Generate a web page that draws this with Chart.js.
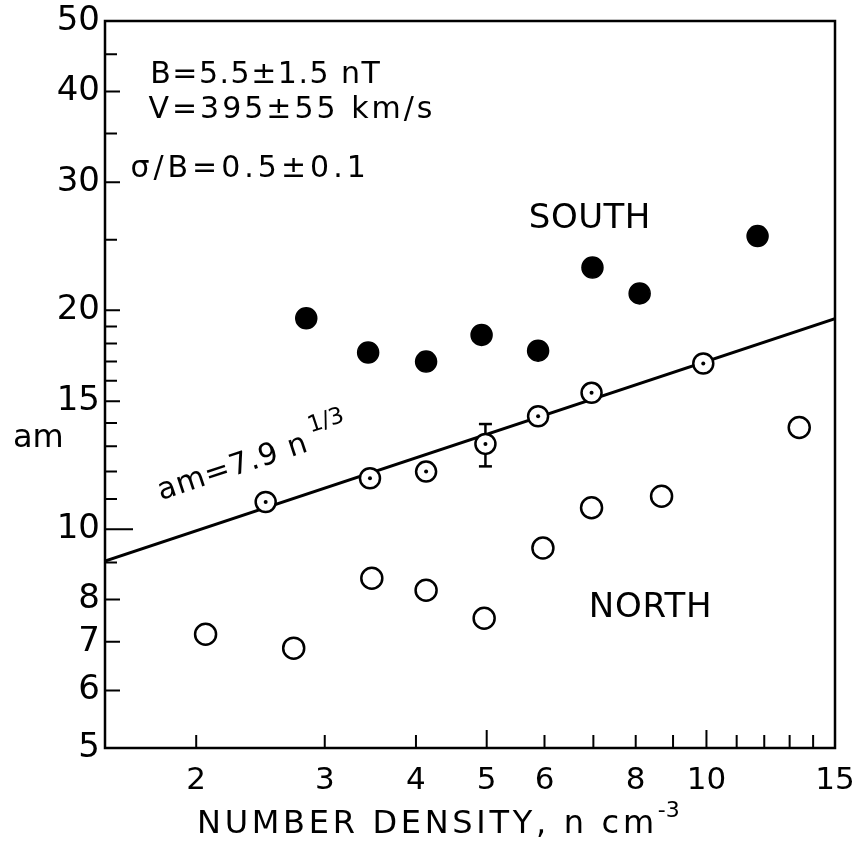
<!DOCTYPE html>
<html lang="en">
<head>
<meta charset="UTF-8">
<title>am vs number density</title>
<script src="https://cdn.jsdelivr.net/npm/chart.js"></script>
<style>
  html, body { margin: 0; padding: 0; background: #fff; }
  #wrap { width: 857px; height: 854px; }
</style>
</head>
<body>
<div id="wrap"><canvas id="amChart"></canvas></div>
<script>
// values
const southN   = [2.83, 3.44, 4.13, 4.92, 5.88, 6.98, 8.1, 11.75];
const southAm  = [19.5, 17.5, 17.0, 18.5, 17.6, 22.9, 21.1, 25.3];
const middleN  = [2.49, 3.46, 4.13, 4.98, 5.88, 6.96, 9.9];
const middleAm = [10.9, 11.75, 12.0, 13.1, 14.3, 15.4, 16.9];
const northN   = [2.06, 2.72, 3.48, 4.13, 4.96, 5.97, 6.96, 8.68, 13.4];
const northAm  = [7.17, 6.86, 8.56, 8.24, 7.54, 9.42, 10.7, 11.1, 13.8];
const errN  = [4.98, 4.98];
const errAm = [12.2, 13.95];
// am = 7.9 n^(1/3), end points at the edges of the frame
const fitN  = [1.5, 15];
const fitAm = [9.04, 19.48];

const xTicks  = [2, 3, 4, 5, 6, 7, 8, 9, 10, 11, 12, 13, 14, 15];
const xLabels = [2, 3, 4, 5, 6, 8, 10, 15];
const yTicks  = [5, 6, 7, 8, 9, 10, 11, 12, 13, 14, 15, 16, 17, 18, 19, 20, 25, 30, 35, 40, 45, 50];
const yLabels = [5, 6, 7, 8, 10, 15, 20, 30, 40, 50];

const FONT = '"DejaVu Sans", sans-serif';
Chart.defaults.font.family = FONT;

function pairs(xs, ys) {
    return xs.map((x, i) => ({ x: x, y: ys[i] }));
}

function noPadding(scale) {
    scale.paddingLeft = 0;
    scale.paddingRight = 0;
    scale.paddingTop = 0;
    scale.paddingBottom = 0;
}

// frame, inward tick marks and the lettering
const framePlugin = {
    id: 'frame',
    beforeDatasetsDraw(chart) {
        const ctx = chart.ctx;
        const a = chart.chartArea;
        const xs = chart.scales.x, ys = chart.scales.y;
        ctx.save();
        ctx.strokeStyle = '#000';
        ctx.lineWidth = 2.5;
        ctx.strokeRect(a.left, a.top, a.right - a.left, a.bottom - a.top);
        ctx.lineWidth = 2;
        ctx.beginPath();
        xTicks.forEach(v => {
            const px = xs.getPixelForValue(v);
            const len = (v === 5 || v === 10) ? 18 : 13;
            ctx.moveTo(px, a.bottom);
            ctx.lineTo(px, a.bottom - len);
        });
        yTicks.forEach(v => {
            const py = ys.getPixelForValue(v);
            let len = yLabels.includes(v) ? 15 : 12;
            if (v === 10) len = 28;
            ctx.moveTo(a.left, py);
            ctx.lineTo(a.left + len, py);
        });
        ctx.stroke();
        ctx.restore();
    },
    afterDraw(chart) {
        const ctx = chart.ctx;
        const xs = chart.scales.x, ys = chart.scales.y;
        const at = (x, y) => [xs.getPixelForValue(x), ys.getPixelForValue(y)];
        ctx.save();
        ctx.fillStyle = '#000';
        ctx.textBaseline = 'alphabetic';
        ctx.textAlign = 'left';

        ctx.font = '30px ' + FONT;
        ctx.letterSpacing = '1.5px';
        let p = at(1.73, 41.1);
        ctx.fillText('B=5.5\u00b11.5 nT', p[0], p[1]);
        ctx.letterSpacing = '3px';
        p = at(1.72, 36.75);
        ctx.fillText('V=395\u00b155 km/s', p[0], p[1]);
        ctx.letterSpacing = '4px';
        p = at(1.625, 30.5);
        ctx.fillText('\u03c3/B=0.5\u00b10.1', p[0], p[1]);

        ctx.font = '34px ' + FONT;
        ctx.letterSpacing = '0.5px';
        p = at(5.71, 25.94);
        ctx.fillText('SOUTH', p[0], p[1]);
        ctx.letterSpacing = '0.75px';
        p = at(6.9, 7.57);
        ctx.fillText('NORTH', p[0], p[1]);

        // label along the fitted line
        const l0 = at(fitN[0], fitAm[0]), l1 = at(fitN[1], fitAm[1]);
        const ang = Math.atan2(l1[1] - l0[1], l1[0] - l0[0]);
        p = at(1.79, 10.96);
        ctx.translate(p[0], p[1]);
        ctx.rotate(ang);
        ctx.font = '30px ' + FONT;
        ctx.letterSpacing = '1px';
        const main = 'am=7.9 n';
        ctx.fillText(main, 0, 0);
        const w = ctx.measureText(main).width;
        ctx.font = '23px ' + FONT;
        ctx.letterSpacing = '0px';
        ctx.fillText('1/3', w + 6, -17);
        ctx.setTransform(1, 0, 0, 1, 0, 0);

        // axis titles
        ctx.font = '32px ' + FONT;
        ctx.letterSpacing = '0px';
        ctx.fillText('am', 13, 447);

        ctx.font = '32px ' + FONT;
        ctx.letterSpacing = '3.7px';
        const xt = 'NUMBER DENSITY, n cm';
        ctx.fillText(xt, 197, 833);
        const xw = ctx.measureText(xt).width;
        ctx.font = '22px ' + FONT;
        ctx.letterSpacing = '0px';
        ctx.fillText('-3', 197 + xw, 817);
        ctx.restore();
    }
};

const ctx = document.getElementById('amChart').getContext('2d');
new Chart(ctx, {
    type: 'scatter',
    data: {
        datasets: [
            {
                label: 'centre dots',
                data: pairs(middleN, middleAm),
                pointRadius: 2,
                pointBackgroundColor: '#000',
                pointBorderWidth: 0
            },
            {
                label: 'on line',
                data: pairs(middleN, middleAm),
                pointRadius: 10,
                pointBackgroundColor: '#fff',
                pointBorderColor: '#000',
                pointBorderWidth: 2.5
            },
            {
                label: 'NORTH',
                data: pairs(northN, northAm),
                pointRadius: 10.5,
                pointBackgroundColor: '#fff',
                pointBorderColor: '#000',
                pointBorderWidth: 2.5
            },
            {
                label: 'SOUTH',
                data: pairs(southN, southAm),
                pointRadius: 10.5,
                pointBackgroundColor: '#000',
                pointBorderColor: '#000',
                pointBorderWidth: 1.5
            },
            {
                label: 'error bar',
                data: pairs(errN, errAm),
                showLine: true,
                borderColor: '#000',
                borderWidth: 2.5,
                pointStyle: 'line',
                pointRadius: 6.5,
                pointBorderColor: '#000',
                pointBorderWidth: 2.5
            },
            {
                label: 'am = 7.9 n^1/3',
                data: pairs(fitN, fitAm),
                showLine: true,
                borderColor: '#000',
                borderWidth: 3,
                pointRadius: 0
            }
        ]
    },
    options: {
        responsive: true,
        maintainAspectRatio: false,
        animation: false,
        layout: { padding: { top: 21, right: 22, left: 0, bottom: 0 } },
        plugins: {
            legend: { display: false },
            tooltip: { enabled: false }
        },
        scales: {
            x: {
                type: 'logarithmic',
                min: 1.5,
                max: 15,
                border: { display: false },
                grid: { display: false, drawTicks: false },
                afterBuildTicks: (scale) => { scale.ticks = xTicks.map(v => ({ value: v })); },
                afterFit: (scale) => { scale.height = 106; noPadding(scale); },
                ticks: {
                    autoSkip: false,
                    maxRotation: 0,
                    padding: 14,
                    color: '#000',
                    font: { family: FONT, size: 31 },
                    callback: (v) => xLabels.includes(v) ? String(v) : ''
                }
            },
            y: {
                type: 'logarithmic',
                min: 5,
                max: 50,
                border: { display: false },
                grid: { display: false, drawTicks: false },
                afterBuildTicks: (scale) => { scale.ticks = yTicks.map(v => ({ value: v })); },
                afterFit: (scale) => { scale.width = 105; noPadding(scale); },
                ticks: {
                    autoSkip: false,
                    padding: 5,
                    color: '#000',
                    font: { family: FONT, size: 34 },
                    callback: (v) => yLabels.includes(v) ? String(v) : ''
                }
            }
        }
    },
    plugins: [framePlugin]
});
</script>
</body>
</html>
